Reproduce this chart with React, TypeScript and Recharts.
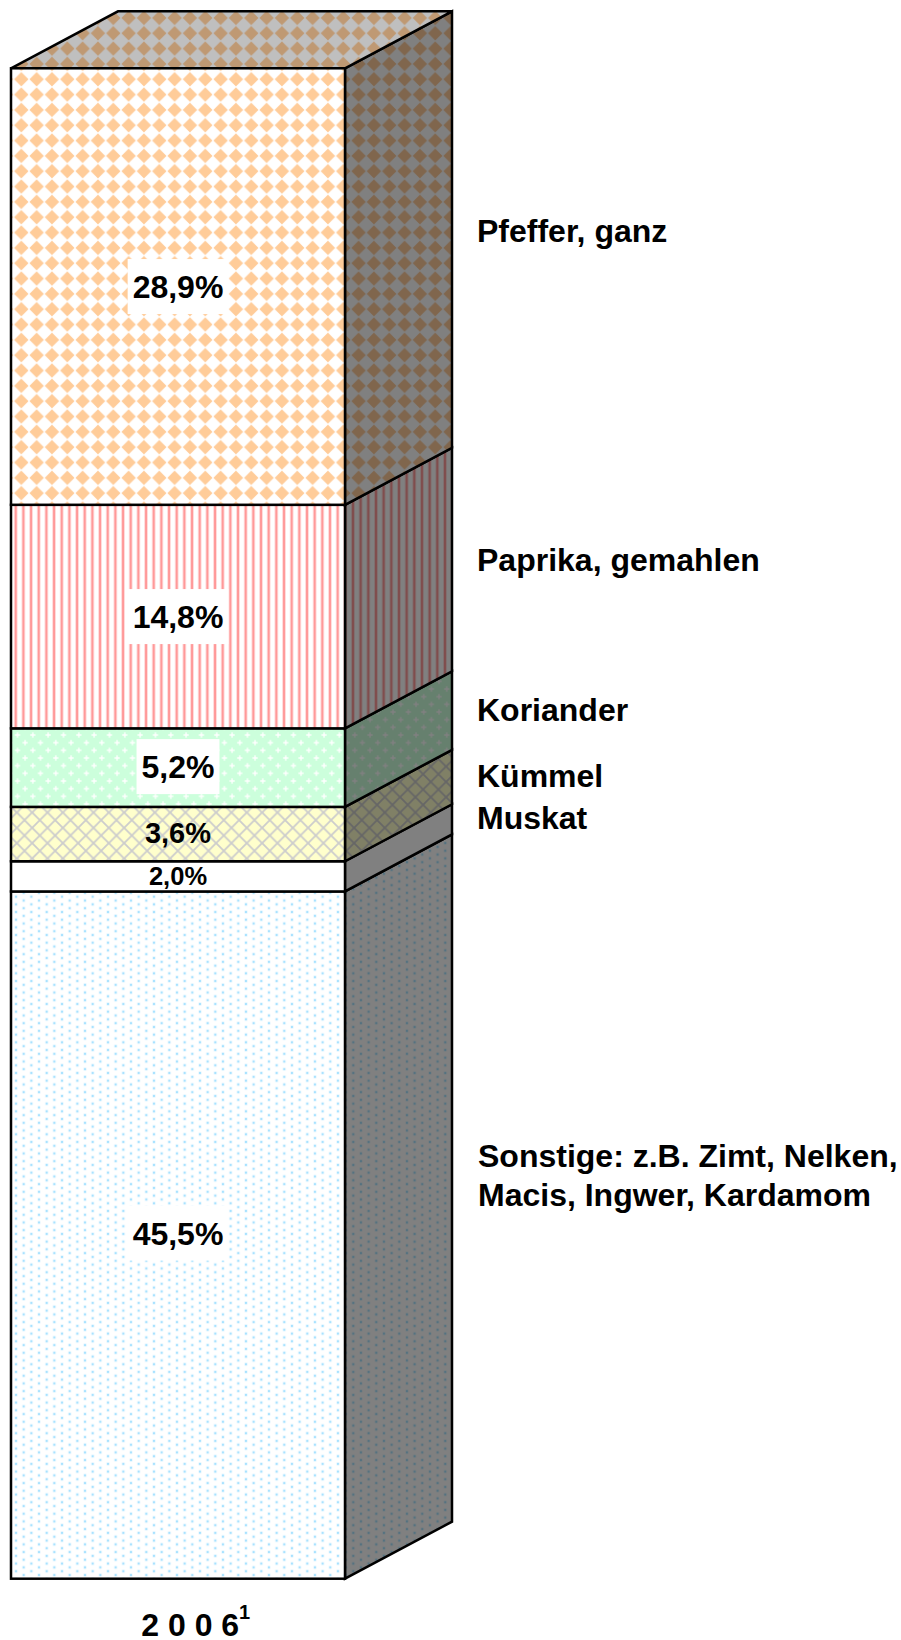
import React from "react";
import { BarChart, Bar, XAxis, YAxis, LabelList } from "recharts";

const YEAR = "2006";
const SERIES_KEYS = ["sonstige", "muskat", "kuemmel", "koriander", "paprika", "pfeffer"];
const SERIES_VALUES = [45.5, 2.0, 3.6, 5.2, 14.8, 28.9];
const NAMES_PFEFFER = ["Pfeffer, ganz"];
const NAMES_PAPRIKA = ["Paprika, gemahlen"];
const NAMES_KORIANDER = ["Koriander"];
const NAMES_KUEMMEL = ["Kümmel"];
const NAMES_MUSKAT = ["Muskat"];
const NAMES_SONSTIGE = ["Sonstige: z.B. Zimt, Nelken,", "Macis, Ingwer, Kardamom"];

const row: Record<string, string | number> = { year: YEAR };
SERIES_KEYS.forEach((k, i) => (row[k] = SERIES_VALUES[i]));
const data = [row];

const W = 901;
const H = 1640;
const DX = 107;
const DY = 57;
const P = 15.33; // pattern tile
const FONT = "'Liberation Sans', Arial, sans-serif";

const shade = (hex: string, f: number) => {
  const n = parseInt(hex.slice(1), 16);
  const c = (v: number) => Math.round(v * f).toString(16).padStart(2, "0");
  return "#" + c((n >> 16) & 255) + c((n >> 8) & 255) + c(n & 255);
};

function Tile({ kind, f, id }: { kind: string; f: number; id: string }) {
  const common = { id, patternUnits: "userSpaceOnUse" as const };
  if (kind === "pfeffer") {
    return (
      <pattern {...common} width={P} height={P} patternTransform="translate(6 2.6)">
        <rect width={P} height={P} fill={shade("#ffffff", f)} />
        <path d={`M0 -7.2 L7.2 0 L0 7.2 L-7.2 0Z M${P} -7.2 L${P + 7.2} 0 L${P} 7.2 L${P - 7.2} 0Z M0 ${P - 7.2} L7.2 ${P} L0 ${P + 7.2} L-7.2 ${P}Z M${P} ${P - 7.2} L${P + 7.2} ${P} L${P} ${P + 7.2} L${P - 7.2} ${P}Z`} fill={shade("#ffcc99", f)} />
      </pattern>
    );
  }
  if (kind === "paprika") {
    return (
      <pattern {...common} width={P / 2} height={P} patternTransform="translate(0.4 0)">
        <rect width={P / 2} height={P} fill={shade("#ffffff", f)} />
        <rect x={-1.3} width={2.6} height={P} fill={shade("#ff9999", f)} />
        <rect x={P / 2 - 1.3} width={2.6} height={P} fill={shade("#ff9999", f)} />
      </pattern>
    );
  }
  if (kind === "koriander") {
    const plus = (cx: number, cy: number) => `M${cx - 2.6} ${cy}H${cx + 2.6}M${cx} ${cy - 2.6}V${cy + 2.6}`;
    return (
      <pattern {...common} width={P} height={P} patternTransform="translate(6 3)">
        <rect width={P} height={P} fill={shade("#ccffdc", f)} />
        <path d={plus(3.8, 3.8) + plus(11.5, 11.5)} stroke={shade("#ffffff", f)} strokeWidth={1.4} fill="none" />
      </pattern>
    );
  }
  if (kind === "kuemmel") {
    return (
      <pattern {...common} width={P} height={P} patternTransform="translate(1.5 0)">
        <rect width={P} height={P} fill={shade("#ffffcc", f)} />
        <path d={`M0 0L${P} ${P}M${P} 0L0 ${P}`} stroke={shade("#cccccc", f)} strokeWidth={1.8} />
      </pattern>
    );
  }
  if (kind === "sonstige") {
    const dot = (cx: number, cy: number) => (
      <g key={`${cx}-${cy}`}>
        <circle cx={cx} cy={cy} r={1.8} fill={shade("#e6f7ff", f)} />
        <circle cx={cx} cy={cy} r={1} fill={shade("#99ddff", f)} />
      </g>
    );
    return (
      <pattern {...common} width={P} height={P / 2} patternTransform="translate(0.7 -0.1)">
        <rect width={P} height={P / 2} fill={shade("#ffffff", f)} />
        {[[0, 0], [P, 0], [0, P / 2], [P, P / 2], [P / 2, P / 4]].map(([cx, cy]) => dot(cx, cy))}
      </pattern>
    );
  }
  return (
    <pattern {...common} width={P} height={P}>
      <rect width={P} height={P} fill={shade("#ffffff", f)} />
    </pattern>
  );
}

const makeCuboid = (key: string, withTop: boolean) => (props: any) => {
  const { x, y, width, height } = props;
  const line = { stroke: "#000", strokeWidth: 2.5, strokeLinejoin: "miter" as const };
  const r = x + width;
  return (
    <g>
      <path d={`M${r} ${y}L${r + DX} ${y - DY}V${y + height - DY}L${r} ${y + height}Z`} fill={`url(#${key}-side)`} {...line} />
      {withTop && (
        <path d={`M${x} ${y}L${x + DX} ${y - DY}H${r + DX}L${r} ${y}Z`} fill={`url(#${key}-top)`} {...line} />
      )}
      <rect x={x} y={y} width={width} height={height} fill={`url(#${key}-front)`} {...line} />
    </g>
  );
};

// font size, nudge and box behaviour of the value labels
const LABEL_STYLE: Record<string, { size: number; box: boolean; dy: number }> = {
  sonstige: { size: 32, box: true, dy: -2 },
  muskat: { size: 25.5, box: false, dy: -1 },
  kuemmel: { size: 29, box: false, dy: -2 },
  koriander: { size: 32, box: true, dy: -1 },
  paprika: { size: 32, box: true, dy: 0 },
  pfeffer: { size: 32, box: true, dy: 0 },
};

const makeValueLabel = (key: string) => (props: any) => {
  const { x, y, width, height, value } = props;
  const { size, box, dy } = LABEL_STYLE[key];
  const text = Number(value).toFixed(1).replace(".", ",") + "%";
  const cx = x + width / 2;
  const cy = y + height / 2;
  const tw = (text.length === 5 ? 2.835 : 2.279) * size;
  return (
    <g>
      {box && <rect x={cx - tw / 2 - 5} y={cy - 27.5 + dy} width={tw + 10} height={55} fill="#fff" />}
      <text x={cx} y={cy + size * 0.36 + dy} textAnchor="middle" fontFamily={FONT} fontWeight="bold" fontSize={size} fill="#000">
        {text}
      </text>
    </g>
  );
};

function YearTick({ x, y, payload }: any) {
  return (
    <text x={x - 36.5} y={y + 51} fontFamily={FONT} fontWeight="bold" fontSize={32} fill="#000">
      {String(payload.value).split("").join(" ")}
      <tspan dy={-17} fontSize={20}>1</tspan>
    </text>
  );
}

const sideLabel = (lines: string[], x: number, y: number) =>
  lines.map((t, i) => (
    <text key={t} x={x} y={y + i * 39} fontFamily={FONT} fontWeight="bold" fontSize={32} fill="#000">
      {t}
    </text>
  ));

export default function App() {
  return (
    <div style={{ position: "absolute", left: 0, top: 0, width: W, height: H, background: "#fff" }}>
      <BarChart
        width={W}
        height={H}
        data={data}
        barCategoryGap={0}
        margin={{ left: 11, right: 556.5, top: 68.3, bottom: 0 }}
      >
        <defs>
          {SERIES_KEYS.map((k) => (
            <React.Fragment key={k}>
              <Tile kind={k} f={1} id={`${k}-front`} />
              <Tile kind={k} f={0.5} id={`${k}-side`} />
              <Tile kind={k} f={0.75} id={`${k}-top`} />
            </React.Fragment>
          ))}
        </defs>
        <XAxis
          dataKey="year"
          height={61.3}
          axisLine={false}
          tickLine={false}
          tick={YearTick}
          tickMargin={0}
        />
        <YAxis hide domain={[0, 100]} />
        {SERIES_KEYS.map((k, i) => (
          <Bar
            key={k}
            dataKey={k}
            stackId="a"
            isAnimationActive={false}
            shape={makeCuboid(k, i === SERIES_KEYS.length - 1)}
          >
            <LabelList dataKey={k} content={makeValueLabel(k)} />
          </Bar>
        ))}
        {sideLabel(NAMES_PFEFFER, 477, 242)}
        {sideLabel(NAMES_PAPRIKA, 477, 571)}
        {sideLabel(NAMES_KORIANDER, 477, 721)}
        {sideLabel(NAMES_KUEMMEL, 477, 787)}
        {sideLabel(NAMES_MUSKAT, 477, 829)}
        {sideLabel(NAMES_SONSTIGE, 478, 1167)}
      </BarChart>
    </div>
  );
}
